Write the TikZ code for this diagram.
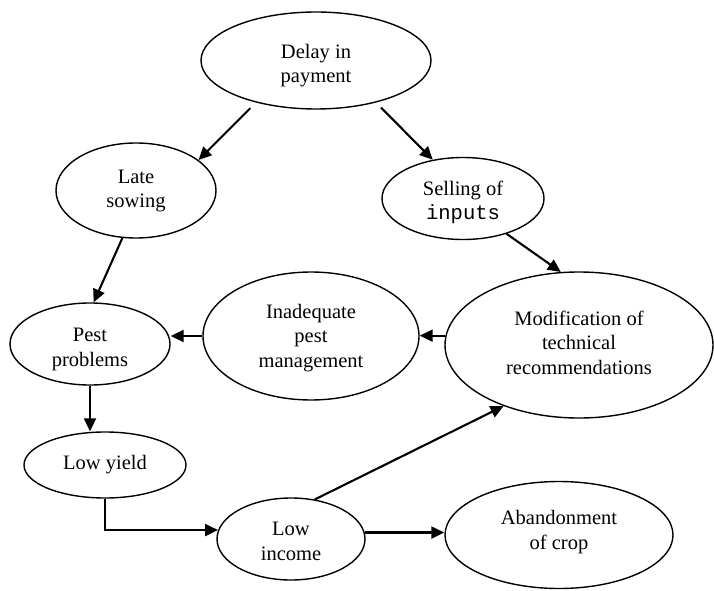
\documentclass[tikz,border=0pt]{standalone}
\usepackage{fontspec}
\setmainfont{Liberation Serif}
\newfontfamily\monof{Liberation Mono}
\usetikzlibrary{shapes.geometric,arrows.meta}
\newcommand\shtxt[2]{\raisebox{#1}[\height][\depth]{\begin{tabular}{@{}c@{}}#2\end{tabular}}}
\begin{document}
\begin{tikzpicture}[x=1bp,y=-1bp,
  ell/.style={draw,ellipse,line width=1.4bp,inner sep=0pt,
    font=\fontsize{20.5bp}{24.5bp}\selectfont},
  arr/.style={line width=2.1bp,-{Triangle[length=13bp,width=12bp]}}]
\useasboundingbox[fill=white] (0,0) rectangle (714,591);
\node[ell,minimum width=230bp,minimum height=97bp] (delay) at (316,60.5) {\shtxt{-5bp}{Delay in\\payment}};
\node[ell,minimum width=160bp,minimum height=95bp] (late) at (136,190.5) {\shtxt{0bp}{Late\\sowing}};
\node[ell,minimum width=162bp,minimum height=82bp] (selling) at (463,198.5) {\shtxt{-4bp}{Selling of\\{\monof inputs}}};
\node[ell,minimum width=268bp,minimum height=146bp] (modif) at (579,345) {\shtxt{0bp}{Modification of\\technical\\recommendations}};
\node[ell,minimum width=216bp,minimum height=128bp] (inadeq) at (311,336) {\shtxt{-2bp}{Inadequate\\pest\\management}};
\node[ell,minimum width=160bp,minimum height=82bp] (pest) at (90,344) {\shtxt{-5bp}{Pest\\problems}};
\node[ell,minimum width=162bp,minimum height=66bp] (lowyield) at (105,465) {\shtxt{0bp}{Low yield}};
\node[ell,minimum width=148bp,minimum height=82bp] (lowinc) at (291,539) {\shtxt{-4bp}{Low\\income}};
\node[ell,minimum width=228bp,minimum height=107bp] (aband) at (559,535) {\shtxt{3bp}{Abandonment\\of crop}};

\draw[arr,shorten <=8bp] (delay.215.6) -- (late.26);
\draw[arr,shorten <=7bp] (delay.325.8) -- (selling.128);
\draw[arr] (late.254) -- (pest.85);
\draw[arr] (selling.321) -- (modif.104.6);
\draw[arr] (modif.176.6) -- (modif.176.6 -| inadeq.east);
\draw[arr] (inadeq.west) -- (inadeq.west -| pest.east);
\draw[arr] (pest.south) -- (pest.south |- lowyield.north);
\draw[arr] (lowyield.south) |- (lowinc.173.7);
\draw[arr] (lowinc.5.4) -- (lowinc.5.4 -| aband.west);
\draw[arr] (lowinc.59) -- (modif.219);
\end{tikzpicture}
\end{document}
